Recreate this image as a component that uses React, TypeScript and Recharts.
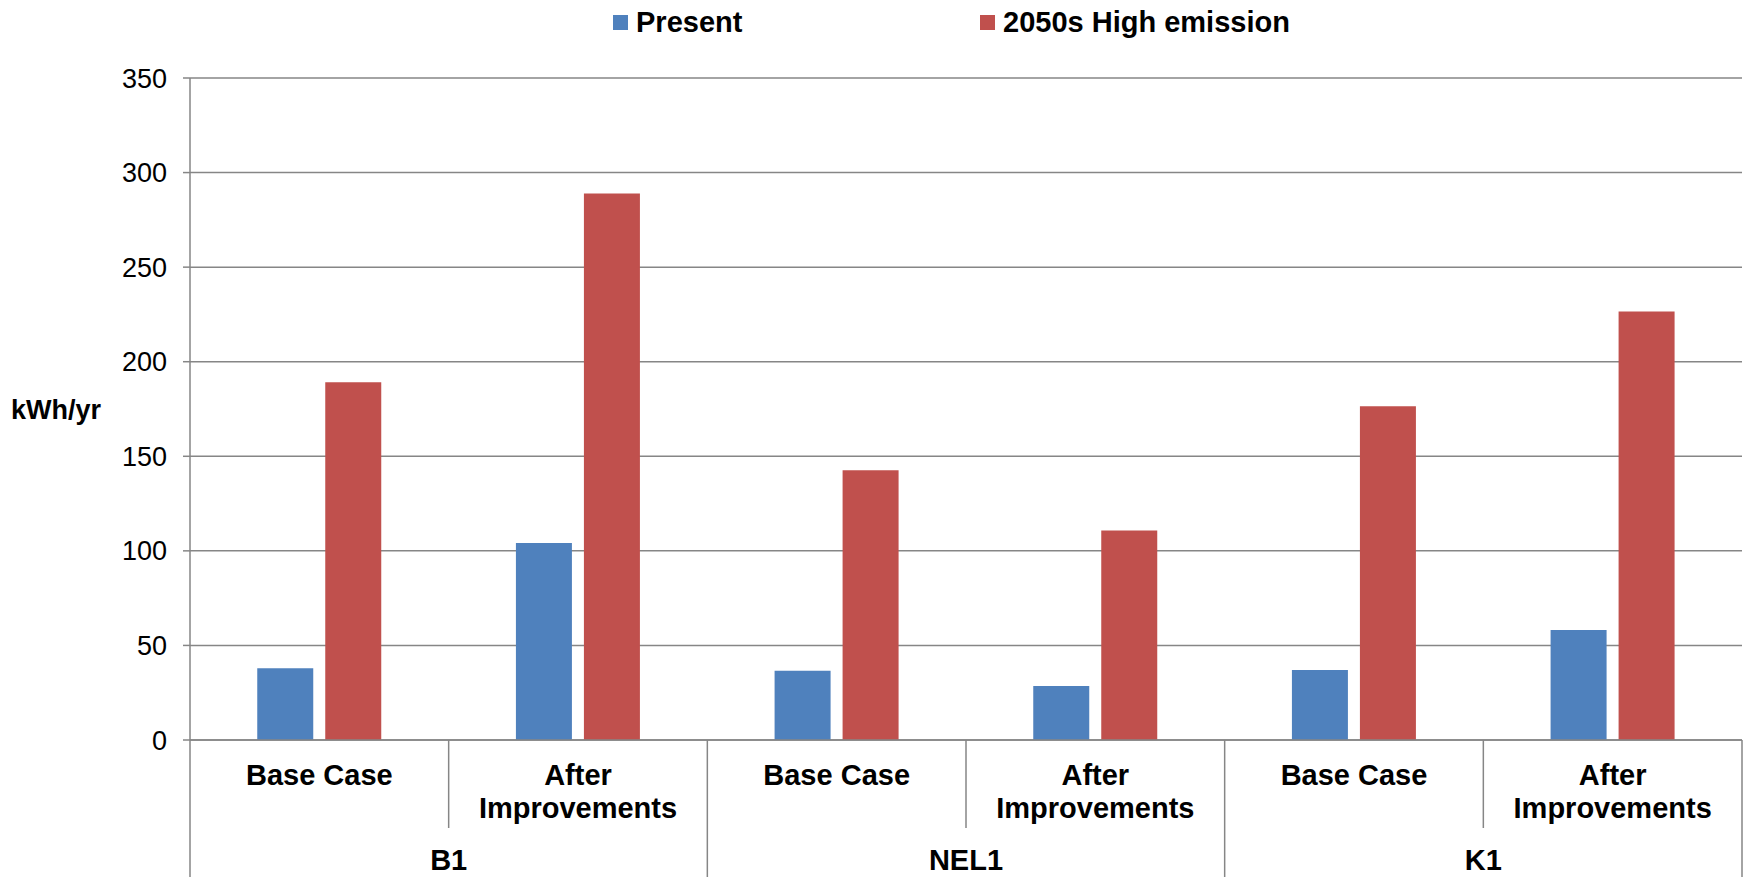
import React from 'react';
import { BarChart, Bar, XAxis, YAxis, CartesianGrid } from 'recharts';

const categories = ['Base Case', 'After\nImprovements', 'Base Case', 'After\nImprovements', 'Base Case', 'After\nImprovements'];
const groupLabels = ['B1', 'B1', 'NEL1', 'NEL1', 'K1', 'K1'];
const presentValues = [38.0, 104.1, 36.6, 28.6, 37.0, 58.1];
const highValues = [189.2, 289.0, 142.6, 110.7, 176.4, 226.5];
const yTicks = [0, 50, 100, 150, 200, 250, 300, 350];
const seriesNames = ['Present', '2050s High emission'];
const seriesColors = ['#4F81BD', '#C0504D'];

const data = categories.map((c, i) => ({
  key: `${groupLabels[i]}-${i}`,
  sub: c,
  group: groupLabels[i],
  present: presentValues[i],
  high: highValues[i],
}));

const FONT = '"Liberation Sans", Arial, Helvetica, sans-serif';
const GRID = '#868686';

function XTick(props: any) {
  const { x, y, payload, index, width, visibleTicksCount } = props;
  const half = payload && payload.offset ? payload.offset : width / visibleTicksCount / 2;
  const lines = String(categories[index]).split('\n');
  const g = groupLabels[index];
  const isStart = index === 0 || groupLabels[index - 1] !== g;
  const isLast = index === categories.length - 1;
  let groupCenter: number | null = null;
  if (isStart) {
    let n = 0;
    while (index + n < groupLabels.length && groupLabels[index + n] === g) n++;
    groupCenter = x - half + n * half;
  }
  return (
    <g>
      <line x1={x - half} x2={x - half} y1={y} y2={y + (isStart ? 140 : 88)} stroke={GRID} strokeWidth={1.5} />
      {isLast && <line x1={x + half} x2={x + half} y1={y} y2={y + 140} stroke={GRID} strokeWidth={1.5} />}
      {lines.map((ln, k) => (
        <text key={k} x={x} y={y + 45 + k * 33} textAnchor="middle" fontFamily={FONT} fontWeight="bold" fontSize={29} fill="#000">
          {ln}
        </text>
      ))}
      {groupCenter !== null && (
        <text x={groupCenter} y={y + 130} textAnchor="middle" fontFamily={FONT} fontWeight="bold" fontSize={29} fill="#000">
          {g}
        </text>
      )}
    </g>
  );
}

function LegendBlock() {
  return (
    <div style={{ position: 'absolute', left: 613, top: 6, display: 'flex', fontFamily: FONT, fontWeight: 'bold', fontSize: 29, color: '#000' }}>
      {seriesNames.map((n, i) => (
        <div key={n} style={{ width: 367, display: 'flex', alignItems: 'center' }}>
          <span style={{ display: 'inline-block', width: 15, height: 15, background: seriesColors[i], marginRight: 8 }} />
          <span>{n}</span>
        </div>
      ))}
    </div>
  );
}

export default function App() {
  return (
    <div style={{ position: 'absolute', left: 0, top: 0, width: 1748, height: 877, background: '#fff' }}>
      <BarChart
        width={1748}
        height={877}
        data={data}
        margin={{ top: 78, right: 6, bottom: 0, left: 0 }}
        barCategoryGap="26%"
        barGap={12}
      >
        <CartesianGrid vertical={false} stroke={GRID} strokeWidth={1.5} />
        <XAxis
          dataKey="key"
          height={137}
          interval={0}
          tickSize={0}
          tickMargin={0}
          tickLine={false}
          axisLine={{ stroke: GRID, strokeWidth: 1.5 }}
          tick={<XTick />}
        />
        <YAxis
          width={190}
          domain={[0, 350]}
          ticks={yTicks}
          interval={0}
          tickSize={7}
          tickMargin={16}
          axisLine={{ stroke: GRID, strokeWidth: 1.5 }}
          tickLine={{ stroke: GRID, strokeWidth: 1.5 }}
          tick={{ fontFamily: FONT, fontSize: 27, fill: '#000' }}
          label={{ value: 'kWh/yr', position: 'insideLeft', offset: 11, fontFamily: FONT, fontWeight: 'bold', fontSize: 27, fill: '#000' }}
        />
        <Bar dataKey="present" name={seriesNames[0]} fill={seriesColors[0]} isAnimationActive={false} />
        <Bar dataKey="high" name={seriesNames[1]} fill={seriesColors[1]} isAnimationActive={false} />
      </BarChart>
      <LegendBlock />
    </div>
  );
}
